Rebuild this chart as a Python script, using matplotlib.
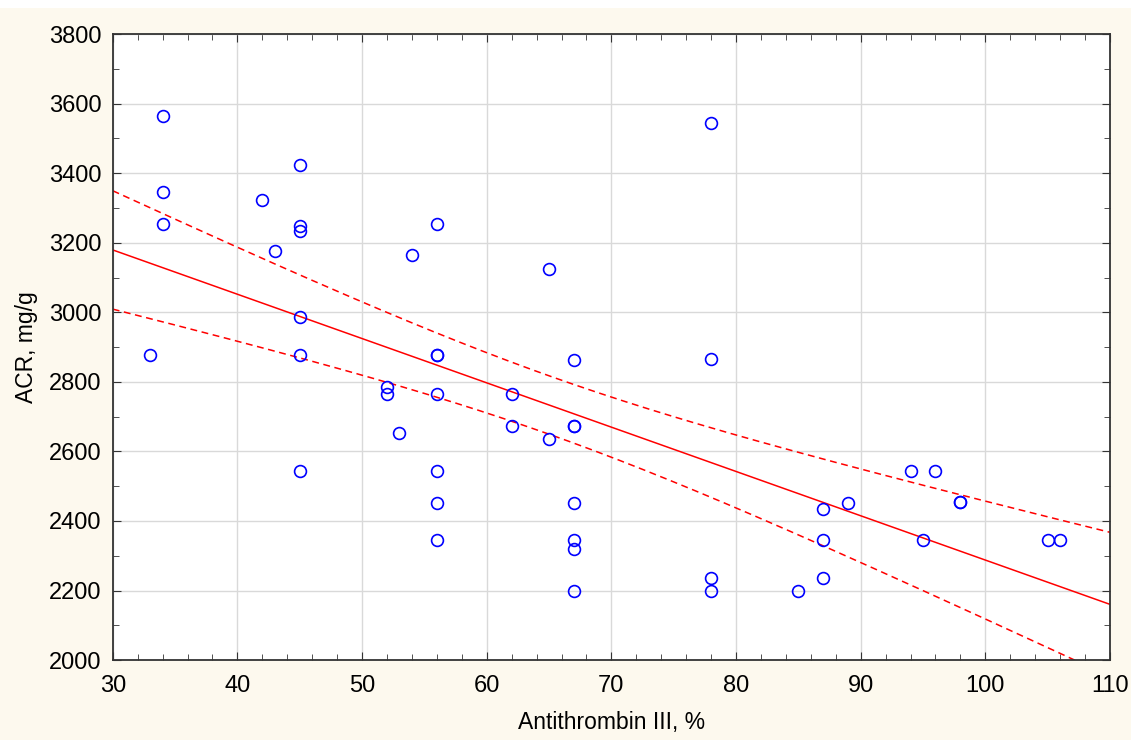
import numpy as np
import matplotlib.pyplot as plt
from matplotlib.ticker import MultipleLocator

plt.rcParams['font.family'] = ['Liberation Sans', 'DejaVu Sans']

# Antithrombin III, % vs ACR, mg/g
at3 = [34, 34, 34, 33, 42, 43, 45, 45, 45, 45, 45, 45,
       52, 52, 53, 54, 56, 56, 56, 56, 56, 56, 56,
       62, 62, 65, 65, 67, 67, 67, 67, 67, 67, 67,
       78, 78, 78, 78, 85, 87, 87, 87, 89, 94, 96, 95,
       98, 98, 105, 106]
acr = [3565, 3345, 3253, 2877, 3323, 3176, 3423, 3248, 3233, 2986, 2877, 2545,
       2785, 2765, 2653, 3166, 3253, 2877, 2877, 2765, 2545, 2453, 2345,
       2765, 2673, 2635, 3124, 2863, 2673, 2673, 2453, 2345, 2320, 2200,
       3544, 2866, 2235, 2200, 2200, 2435, 2345, 2235, 2453, 2545, 2545, 2345,
       2455, 2455, 2345, 2345]

x = np.array(at3, dtype=float)
y = np.array(acr, dtype=float)
n = len(x)
b, a = np.polyfit(x, y, 1)
resid = y - (a + b * x)
s = np.sqrt(np.sum(resid ** 2) / (n - 2))
t = 2.01
xx = np.linspace(30, 110, 200)
yy = a + b * xx
se = s * np.sqrt(1 / n + (xx - x.mean()) ** 2 / np.sum((x - x.mean()) ** 2))

fig = plt.figure(figsize=(11.31, 7.40), dpi=100, facecolor='#fdf9ee')
# thin white strip along the top edge
fig.patches.append(plt.Rectangle((0, 1 - 8 / 740), 1, 8 / 740, transform=fig.transFigure,
                                 facecolor='white', edgecolor='none'))
ax = fig.add_axes([0.0997, 0.108, 0.8817, 0.846])
ax.set_facecolor('white')

ax.plot(xx, yy, color='red', lw=1.1)
ax.plot(xx, yy + t * se, color='red', lw=1.1, ls=(0, (4.5, 3)))
ax.plot(xx, yy - t * se, color='red', lw=1.1, ls=(0, (4.5, 3)))
ax.plot(x, y, 'o', mfc='none', mec='blue', ms=8.5, mew=1.2)

ax.set_xlim(30, 110)
ax.set_ylim(2000, 3800)
ax.xaxis.set_major_locator(MultipleLocator(10))
ax.xaxis.set_minor_locator(MultipleLocator(2))
ax.yaxis.set_major_locator(MultipleLocator(200))
ax.yaxis.set_minor_locator(MultipleLocator(100))
ax.grid(True, which='major', color='#d9d9d9', lw=1)
ax.set_axisbelow(True)
ax.tick_params(which='both', direction='in', top=True, right=True,
               labeltop=False, labelright=False, color='#333333')
ax.tick_params(which='major', length=6, labelsize=17)
ax.tick_params(axis='x', which='major', pad=11)
ax.tick_params(axis='y', which='major', pad=8)
ax.tick_params(which='minor', length=4)
for sp in ax.spines.values():
    sp.set_color('#333333')
    sp.set_linewidth(1.3)

ax.set_xlabel('Antithrombin III, %', fontsize=16.5, labelpad=10)
ax.set_ylabel('ACR, mg/g', fontsize=16.5, labelpad=8)

fig.savefig('out.png', dpi=100, facecolor=fig.get_facecolor())
